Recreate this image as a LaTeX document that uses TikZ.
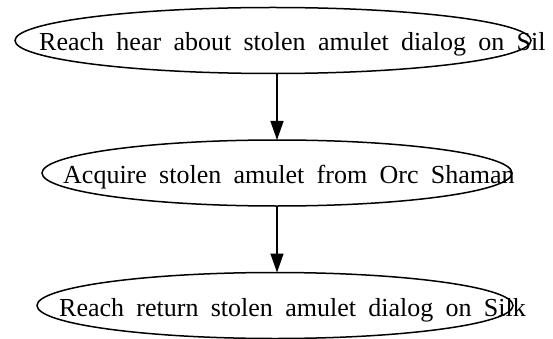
\documentclass[tikz,border=0pt]{standalone}
\usepackage{fontspec}
\setmainfont{Liberation Serif}
\usetikzlibrary{shapes.geometric,arrows.meta}
\newcommand\widewords{\spaceskip=12.3pt\relax}
\tikzset{
  state/.style={ellipse, draw, line width=1.5pt, inner sep=0pt, outer sep=0pt},
  statetext/.style={anchor=base west, inner sep=0pt,
    font={\fontsize{26}{31}\selectfont\widewords}},
  flow/.style={line width=1.5pt, -{Triangle[length=19pt,width=13pt]}}
}
\begin{document}
\begin{tikzpicture}[x=1pt,y=-1pt]
  \useasboundingbox (0,0) rectangle (553,339);
  % states
  \node[state, minimum width=516pt, minimum height=66pt] (e1) at (273,40.5) {};
  \node[state, minimum width=470pt, minimum height=66pt] (e2) at (277,173) {};
  \node[state, minimum width=476pt, minimum height=66pt] (e3) at (275,305.5) {};
  % labels
  \node[statetext] (t1) at (39,51) {Reach hear about stolen amulet dialog on Sil};
  \node[statetext] (t2) at (63,183.5) {Acquire stolen amulet from Orc Shaman};
  \node[statetext] (t3) at (59,316) {Reach return stolen amulet dialog on Silk};
  % transitions
  \draw[flow] (e2.north |- e1.south) -- (e2.north);
  \draw[flow] (e2.south) -- (e2.south |- e3.north);
\end{tikzpicture}
\end{document}
